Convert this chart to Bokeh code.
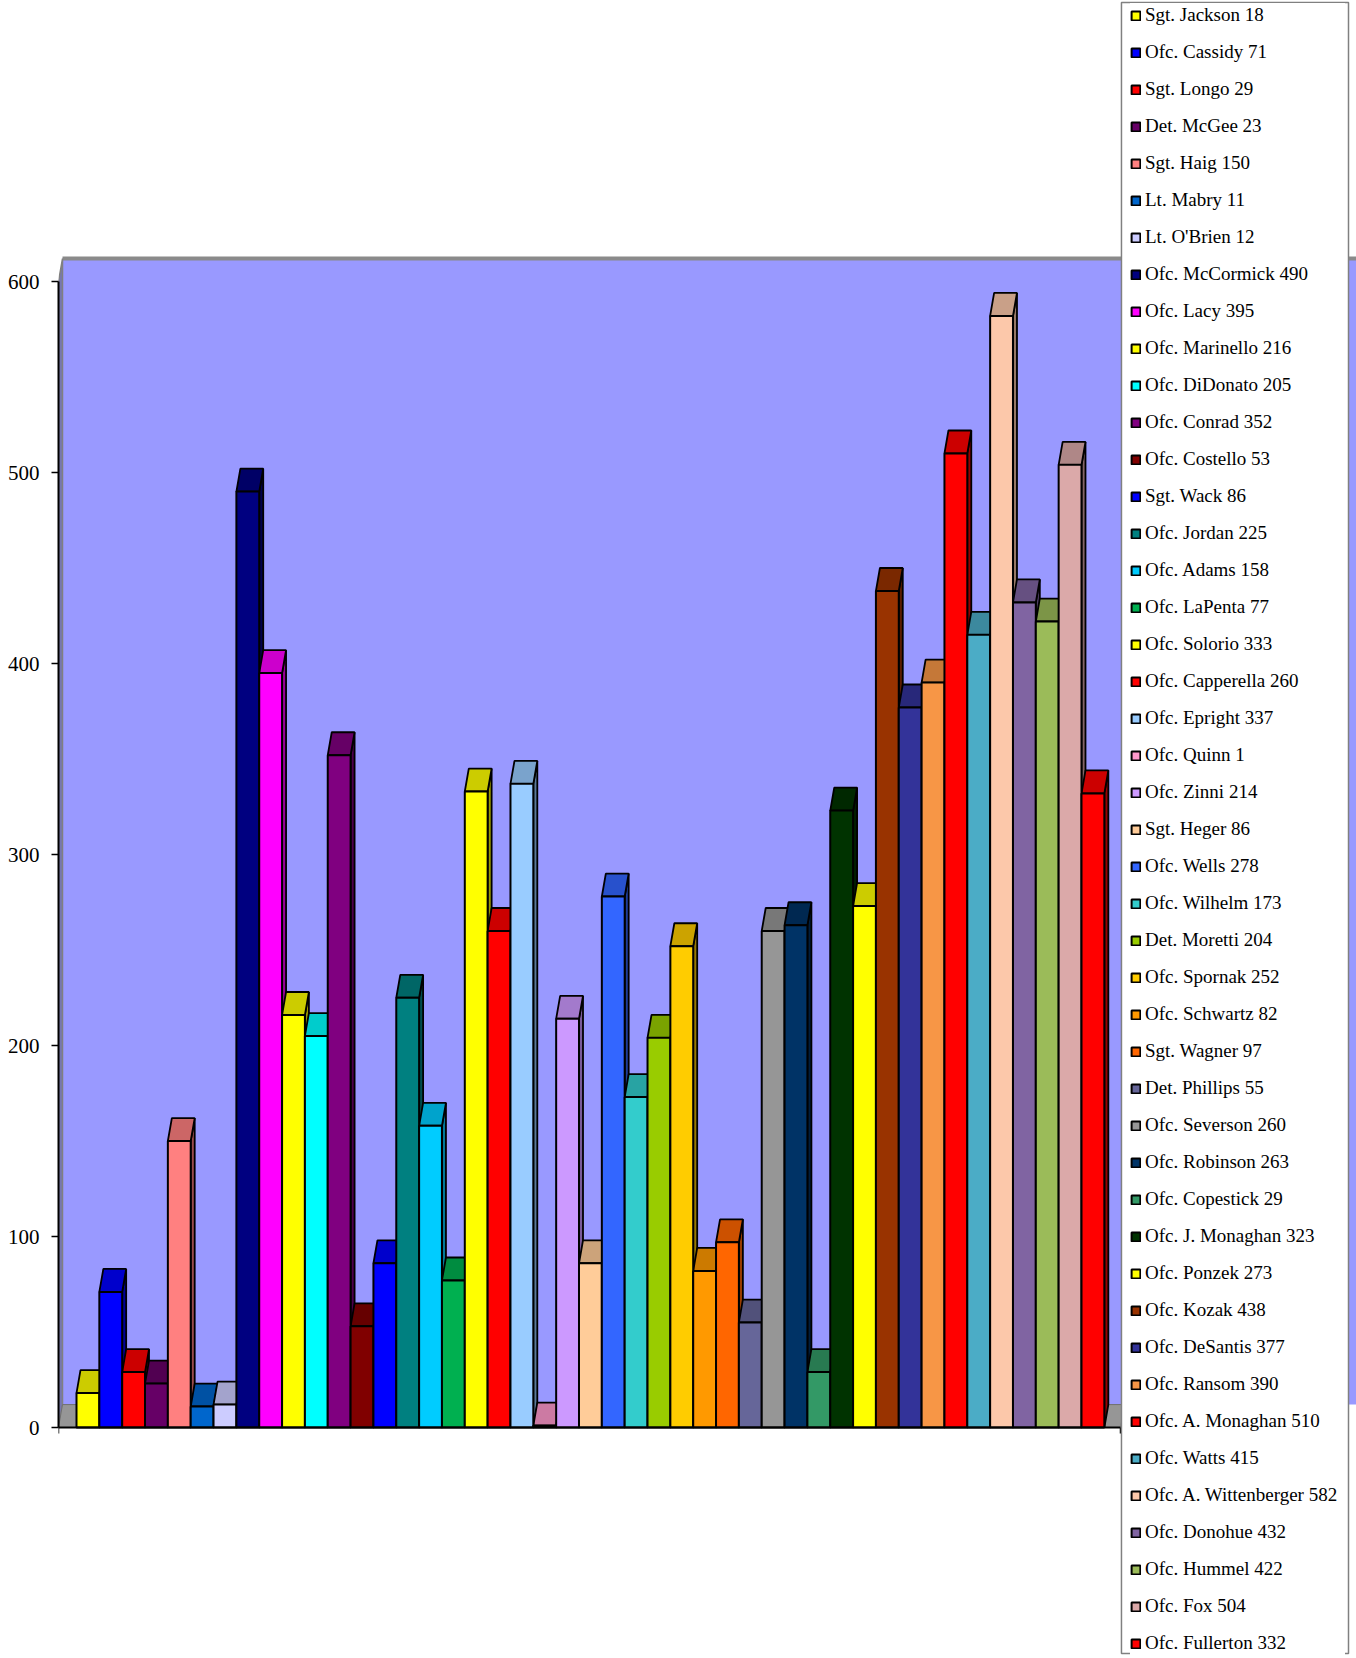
from bokeh.plotting import figure
from bokeh.models import (Range1d, FixedTicker, Legend, LegendItem, BoxAnnotation,
                          CustomJSTickFormatter, LinearAxis, ColumnDataSource)
from bokeh.embed import file_html
from bokeh.resources import INLINE

# ---- data -------------------------------------------------------------
officers = [
    "Sgt. Jackson", "Ofc. Cassidy", "Sgt. Longo", "Det. McGee", "Sgt. Haig",
    "Lt. Mabry", "Lt. O'Brien", "Ofc. McCormick", "Ofc. Lacy", "Ofc. Marinello",
    "Ofc. DiDonato", "Ofc. Conrad", "Ofc. Costello", "Sgt. Wack", "Ofc. Jordan",
    "Ofc. Adams", "Ofc. LaPenta", "Ofc. Solorio", "Ofc. Capperella", "Ofc. Epright",
    "Ofc. Quinn", "Ofc. Zinni", "Sgt. Heger", "Ofc. Wells", "Ofc. Wilhelm",
    "Det. Moretti", "Ofc. Spornak", "Ofc. Schwartz", "Sgt. Wagner", "Det. Phillips",
    "Ofc. Severson", "Ofc. Robinson", "Ofc. Copestick", "Ofc. J. Monaghan", "Ofc. Ponzek",
    "Ofc. Kozak", "Ofc. DeSantis", "Ofc. Ransom", "Ofc. A. Monaghan", "Ofc. Watts",
    "Ofc. A. Wittenberger", "Ofc. Donohue", "Ofc. Hummel", "Ofc. Fox", "Ofc. Fullerton",
]
counts = [
    18, 71, 29, 23, 150,
    11, 12, 490, 395, 216,
    205, 352, 53, 86, 225,
    158, 77, 333, 260, 337,
    1, 214, 86, 278, 173,
    204, 252, 82, 97, 55,
    260, 263, 29, 323, 273,
    438, 377, 390, 510, 415,
    582, 432, 422, 504, 332,
]
palette = [
    "#FFFF00", "#0000FF", "#FF0000", "#660066", "#FF8080",
    "#0066CC", "#CCCCFF", "#000080", "#FF00FF", "#FFFF00",
    "#00FFFF", "#800080", "#800000", "#0000FF", "#008080",
    "#00CCFF", "#00B050", "#FFFF00", "#FF0000", "#99CCFF",
    "#FF99CC", "#CC99FF", "#FFCC99", "#3366FF", "#33CCCC",
    "#99CC00", "#FFCC00", "#FF9900", "#FF6600", "#666699",
    "#969696", "#003366", "#339966", "#003300", "#FFFF00",
    "#993300", "#333399", "#F79646", "#FF0000", "#4BACC6",
    "#FCC8AA", "#8064A2", "#9BBB59", "#DBA9A9", "#FF0000",
]
y_ticks = [0, 100, 200, 300, 400, 500, 600]


def shade(hex_color, f):
    h = hex_color.lstrip("#")
    r, g, b = (int(h[i:i + 2], 16) for i in (0, 2, 4))
    return "#%02X%02X%02X" % (int(r * f), int(g * f), int(b * f))


n = len(officers)
DX, DY = 0.175, 12.0                  # 3-D depth offset (x in category units, y in value units)
x_left, x_right = -0.788, 56.04
y_bottom, y_top = -120.94, 747.12
floor_left, floor_right = -0.788, n + 0.71
wall_top = y_ticks[-1] + DY

p = figure(width=1356, height=1658,
           x_range=Range1d(x_left, x_right), y_range=Range1d(y_bottom, y_top),
           output_backend="svg", toolbar_location=None,
           x_axis_location=None, y_axis_location="left",
           min_border_left=58, min_border_right=0, min_border_top=0, min_border_bottom=0)
p.outline_line_color = None
p.grid.visible = False
p.background_fill_color = "white"
p.border_fill_color = "white"

# walls and floor
p.quad(left=floor_left + DX, right=x_right + 2, bottom=DY, top=wall_top,
       fill_color="#9999FF", line_color=None)
p.segment(x0=floor_left + DX, y0=wall_top, x1=x_right + 2, y1=wall_top,
          line_color="#8A8A8A", line_width=4)
p.patch([floor_left, floor_left + DX, floor_left + DX, floor_left],
        [0, DY, wall_top, y_ticks[-1]],
        fill_color="#7777B0", line_color="#808080", line_width=1.5)
p.patch([floor_left, floor_right, floor_right + DX, floor_left + DX],
        [0, 0, DY, DY], fill_color="#969696", line_color="#6E6E6E", line_width=1)

# bars
idx = list(range(n))
src_front = ColumnDataSource(dict(
    left=idx, right=[i + 1 for i in idx], bottom=[0] * n, top=counts,
    color=palette, name=[f"{o} {c}" for o, c in zip(officers, counts)]))
side_xs = [[i + 1, i + 1 + DX, i + 1 + DX, i + 1] for i in idx]
side_ys = [[0, DY, v + DY, v] for v in counts]
top_xs = [[i, i + 1, i + 1 + DX, i + DX] for i in idx]
top_ys = [[v, v, v + DY, v + DY] for v in counts]

p.patches(side_xs, side_ys, fill_color=[shade(c, 0.6) for c in palette],
          line_color="black", line_width=1.8)
p.patches(top_xs, top_ys, fill_color=[shade(c, 0.8) for c in palette],
          line_color="black", line_width=1.8)
front = p.quad(left="left", right="right", bottom="bottom", top="top", source=src_front,
               fill_color="color", line_color="black", line_width=2)

# y axis
ya = p.yaxis[0]
ya.ticker = FixedTicker(ticks=y_ticks)
ya.bounds = (y_ticks[0], y_ticks[-1])
ya.major_tick_out = 7
ya.major_tick_in = 0
ya.minor_tick_out = 0
ya.minor_tick_in = 0
ya.major_label_standoff = 12
ya.major_label_text_font = "Liberation Serif"
ya.major_label_text_font_size = "21px"
ya.major_label_text_color = "black"
ya.axis_line_width = 2
ya.axis_line_color = "black"
ya.major_tick_line_width = 1.5
ya.major_tick_line_color = "black"

# x axis (only a baseline with end ticks)
xa = LinearAxis(fixed_location=0, ticker=FixedTicker(ticks=[floor_left, floor_right]),
                bounds=(floor_left, floor_right), major_tick_out=6, major_tick_in=0,
                minor_tick_out=0, minor_tick_in=0,
                formatter=CustomJSTickFormatter(code="return ''"),
                axis_line_width=2, axis_line_color="black",
                major_tick_line_width=1.5, major_tick_line_color="black")
p.add_layout(xa, "below")

# legend frame (white box with grey border), then the legend entries on top of it
legend_box = BoxAnnotation(left=45.75, right=55.69, top=746.07, bottom=-118.3,
                           fill_color="white", fill_alpha=1.0,
                           line_color="#808080", line_width=1.5, line_alpha=1.0)
p.add_layout(legend_box)

legend = Legend(
    items=[LegendItem(label=src_front.data["name"][i], renderers=[front], index=i) for i in idx],
    location=(1072, 3), orientation="vertical",
    glyph_width=11, glyph_height=11, label_height=24, label_width=200, label_standoff=4,
    spacing=13, padding=1, margin=0,
    border_line_color=None,
    background_fill_color="white", background_fill_alpha=1.0,
    label_text_font="Liberation Serif", label_text_font_size="19px",
    label_text_color="black")
p.add_layout(legend)

open("out.html", "w").write(file_html(p, INLINE))
